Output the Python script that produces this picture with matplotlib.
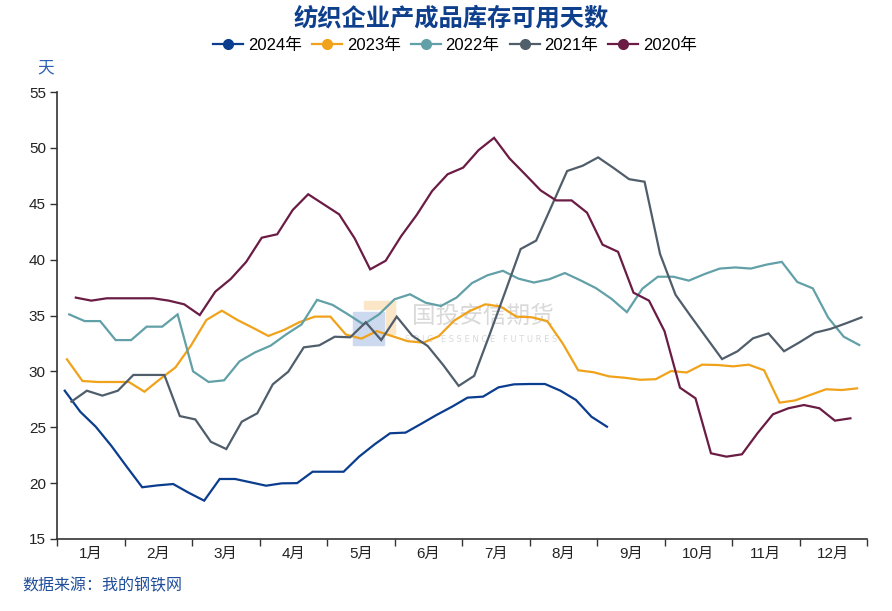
import matplotlib
matplotlib.use("Agg")
import matplotlib.pyplot as plt
import matplotlib.patches as mpatches
from matplotlib import font_manager
import pandas as pd
import numpy as np

# ---------------- data ----------------
months = ["1月", "2月", "3月", "4月", "5月", "6月", "7月", "8月", "9月", "10月", "11月", "12月"]

start_2024 = "2024-01-04"
v2024 = [28.27, 26.39, 25.05, 23.35, 21.47, 19.63, 19.80, 19.92, 19.14, 18.43,
         20.37, 20.37, 20.07, 19.77, 19.98, 20.00, 21.02, 21.02, 21.02, 22.37,
         23.47, 24.46, 24.52, 25.30, 26.10, 26.84, 27.65, 27.74, 28.57, 28.84,
         28.87, 28.87, 28.27, 27.44, 25.94, 25.05]

start_2023 = "2023-01-05"
v2023 = [31.08, 29.14, 29.05, 29.05, 29.05, 28.18, 29.30, 30.35, 32.30, 34.60,
         35.43, 34.60, 33.90, 33.17, 33.70, 34.40, 34.90, 34.90, 33.30, 32.93,
         33.60, 33.15, 32.70, 32.57, 33.15, 34.55, 35.40, 36.00, 35.80, 34.90,
         34.84, 34.50, 32.50, 30.10, 29.92, 29.55, 29.43, 29.25, 29.30, 30.03,
         29.90, 30.60, 30.57, 30.45, 30.60, 30.10, 27.20, 27.40, 27.90, 28.40,
         28.33, 28.48]

start_2022 = "2022-01-06"
v2022 = [35.10, 34.50, 34.50, 32.80, 32.80, 34.00, 34.00, 35.10, 30.00, 29.05,
         29.20, 30.90, 31.70, 32.30, 33.30, 34.20, 36.40, 35.95, 35.10, 34.20,
         35.10, 36.45, 36.90, 36.15, 35.85, 36.60, 37.90, 38.60, 39.00, 38.30,
         37.95, 38.25, 38.80, 38.15, 37.45, 36.50, 35.30, 37.40, 38.47, 38.47,
         38.12, 38.70, 39.20, 39.30, 39.20, 39.55, 39.80, 38.00, 37.43, 34.80,
         33.10, 32.36]

start_2021 = "2021-01-07"
v2021 = [27.29, 28.27, 27.83, 28.27, 29.68, 29.68, 29.68, 26.00, 25.70, 23.70,
         23.05, 25.50, 26.25, 28.84, 29.97, 32.15, 32.33, 33.10, 33.05, 34.39,
         32.80, 34.90, 33.20, 32.27, 30.57, 28.70, 29.60, 33.30, 37.10, 40.95,
         41.70, 44.80, 47.93, 48.40, 49.15, 48.20, 47.20, 46.97, 40.50, 36.85,
         34.90, 33.00, 31.10, 31.80, 32.96, 33.40, 31.80, 32.60, 33.46, 33.80,
         34.30, 34.83]

start_2020 = "2020-01-09"
v2020 = [36.60, 36.33, 36.54, 36.54, 36.54, 36.54, 36.33, 36.00, 35.04, 37.13,
         38.27, 39.80, 41.96, 42.27, 44.44, 45.85, 44.95, 44.05, 41.90, 39.13,
         39.90, 42.10, 43.99, 46.14, 47.64, 48.23, 49.80, 50.90, 49.05, 47.64,
         46.20, 45.30, 45.30, 44.20, 41.34, 40.70, 37.04, 36.33, 33.60, 28.54,
         27.59, 22.67, 22.37, 22.58, 24.46, 26.16, 26.70, 26.99, 26.70, 25.59,
         25.80]

series = [
    ("2024年", start_2024, v2024, "#0b3d8f"),
    ("2023年", start_2023, v2023, "#f0a21a"),
    ("2022年", start_2022, v2022, "#62a0a8"),
    ("2021年", start_2021, v2021, "#505e6b"),
    ("2020年", start_2020, v2020, "#6a1c45"),
]

# ---------------- fonts ----------------
avail = {f.name for f in font_manager.fontManager.ttflist}
narrow = "Liberation Sans Narrow" if "Liberation Sans Narrow" in avail else "Liberation Sans"
FAM = [narrow, "Noto Sans CJK SC", "DejaVu Sans"]
CJK = ["Noto Sans CJK SC", "DejaVu Sans"]
plt.rcParams["font.family"] = FAM

W, H = 892, 611
fig = plt.figure(figsize=(W / 100, H / 100), dpi=100)
ax = fig.add_axes([57 / W, 1 - 539 / H, 810 / W, 447 / H])
ax.set_facecolor("none")
ax.set_zorder(2)

for name, start, vals, col in series:
    dates = pd.date_range(start, periods=len(vals), freq="7D")
    x = dates.dayofyear.values - 0.5
    ax.plot(x, vals, color=col, lw=1.6, label=name, zorder=3,
            solid_joinstyle="miter")

ax.set_xlim(0, 366)
ax.set_ylim(15, 55)
ax.set_yticks(np.arange(15, 56, 5))
mw = 366 / 12
ax.set_xticks(np.arange(13) * mw)
ax.set_xticklabels([])
ax.set_xticks(np.arange(12) * mw + mw / 2, minor=True)
ax.set_xticklabels(months, minor=True)
ax.tick_params(axis="x", which="minor", length=0, pad=6, labelsize=11)
ax.tick_params(axis="x", which="major", length=5, width=1, color="#333333", direction="out")
ax.tick_params(axis="y", length=5, width=1, color="#333333", direction="out", labelsize=11, pad=3)
for lab in ax.get_xticklabels(minor=True) + ax.get_yticklabels():
    lab.set_color("#222222")
for s in ["top", "right"]:
    ax.spines[s].set_visible(False)
for s in ["left", "bottom"]:
    ax.spines[s].set_color("#333333")
    ax.spines[s].set_linewidth(1.2)

# legend
handles = [plt.Line2D([], [], color=c, lw=1.6, marker="o", markersize=7,
                      markeredgecolor=c) for _, _, _, c in series]
leg = fig.legend(handles, [s[0] for s in series], loc="center",
                 bbox_to_anchor=(455 / W, 1 - 45 / H), ncol=5, frameon=False,
                 fontsize=12, handlelength=1.8, handletextpad=0.3,
                 columnspacing=0.6, borderaxespad=0)

# title and texts
fig.text(451 / W, 1 - 18 / H, "纺织企业产成品库存可用天数", ha="center", va="center",
         fontsize=17.5, fontweight="bold", color="#0d3f8c", family=CJK)
fig.text(37 / W, 1 - 68 / H, "天", ha="left", va="center", fontsize=12,
         color="#2f5fb3", family=CJK)
fig.text(22 / W, 1 - 586 / H, "数据来源：我的钢铁网", ha="left", va="center",
         fontsize=11.5, color="#1f4e9a", family=CJK)

# watermark (behind the lines)
wm = [
    mpatches.Rectangle((353 / W, 1 - 345 / H), 31 / W, 33 / H, color="#cdd9ef"),
    mpatches.Rectangle((364 / W, 1 - 309 / H), 31 / W, 8 / H, color="#fbe7c8"),
    mpatches.Rectangle((386 / W, 1 - 334 / H), 9 / W, 33 / H, color="#fbe7c8"),
]
for p in wm:
    p.set_transform(fig.transFigure)
    p.set_zorder(0)
    fig.patches.append(p)
fig.text(483 / W, 1 - 316 / H, "国投安信期货", ha="center", va="center",
         fontsize=17, color="#d9d9d9", family=CJK, zorder=0)
fig.text(481 / W, 1 - 339 / H, "S D I C   E S S E N C E   F U T U R E S", ha="center",
         va="center", fontsize=6, color="#d9d9d9", family=["DejaVu Sans"], zorder=0)

fig.savefig("out.png", dpi=100)
